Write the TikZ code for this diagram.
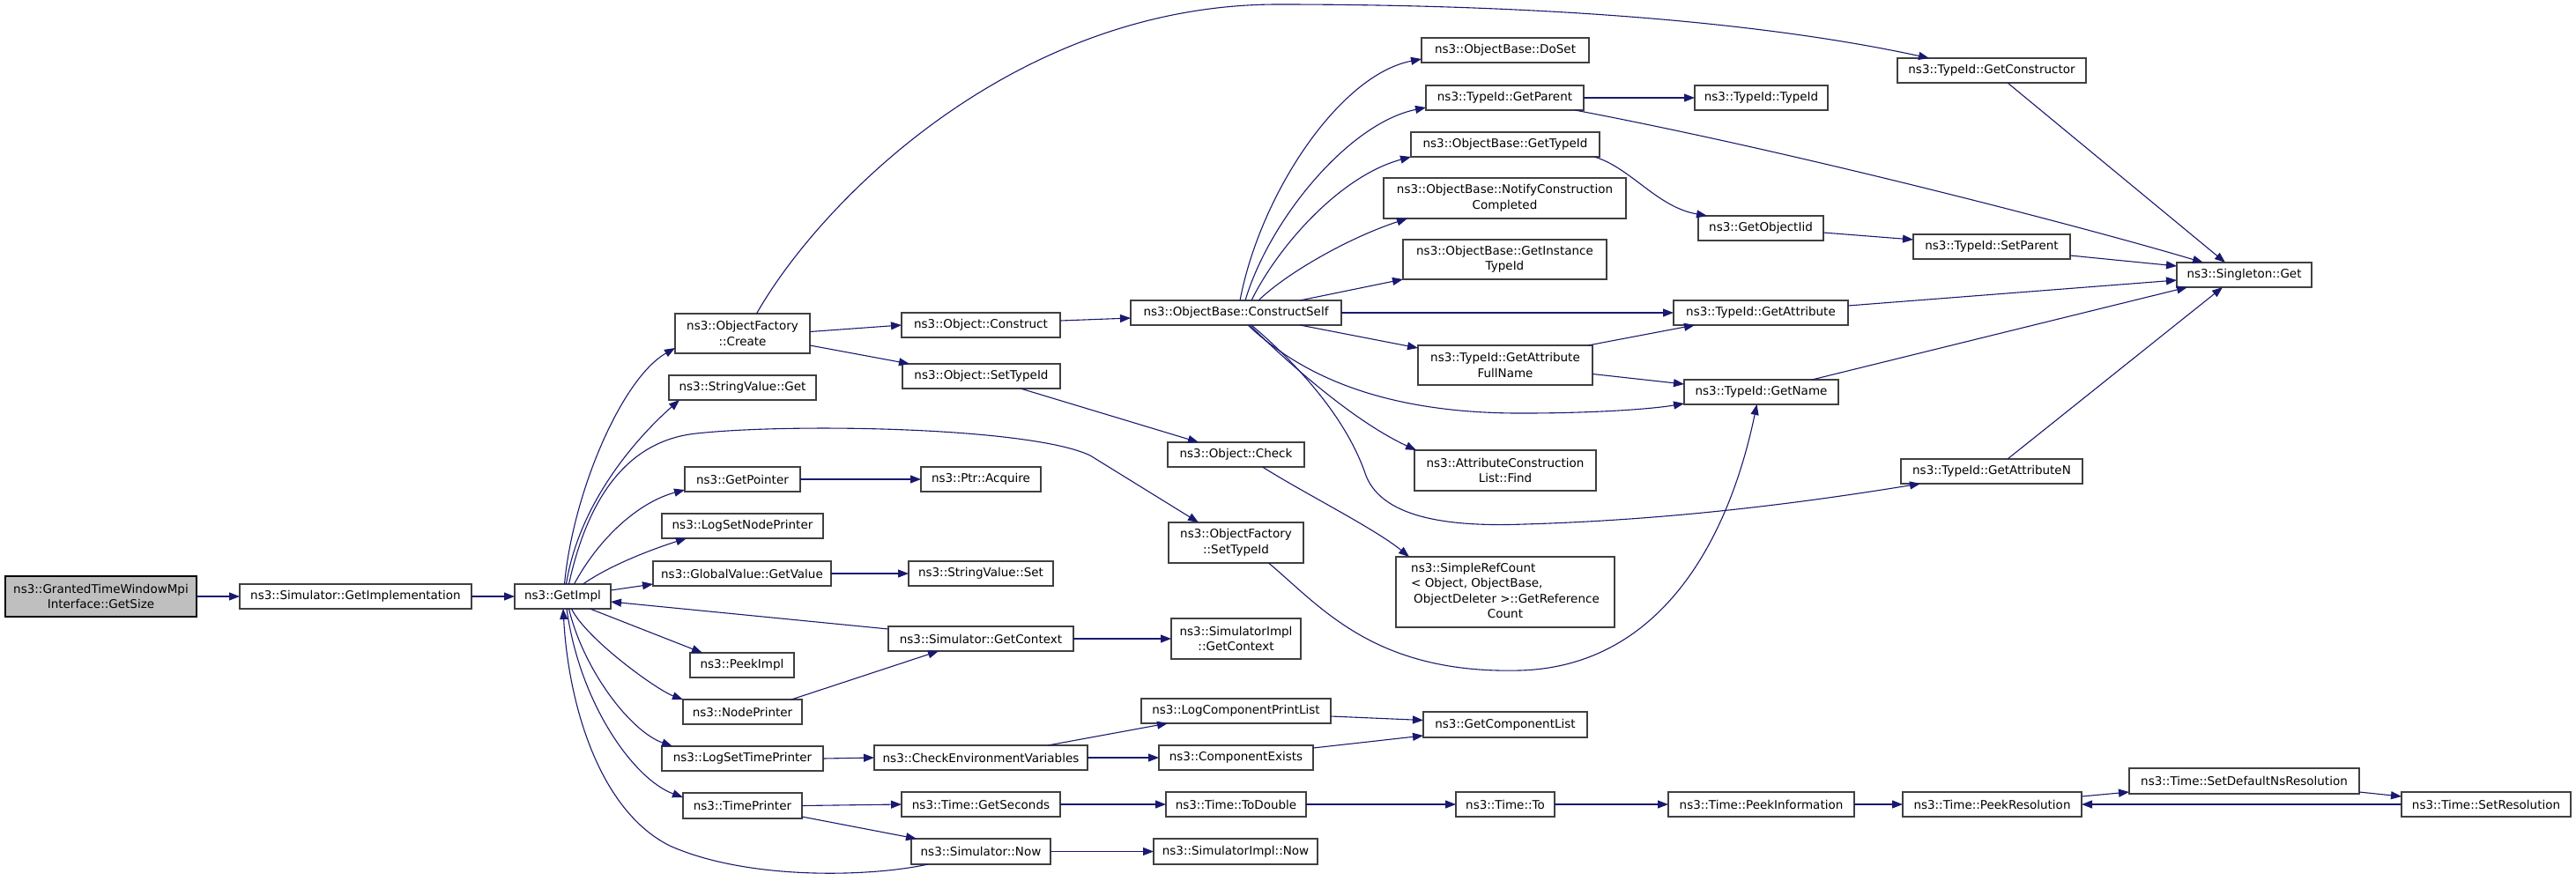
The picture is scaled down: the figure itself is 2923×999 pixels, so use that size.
\documentclass[tikz,border=0pt]{standalone}
\usepackage{fontspec}
\setmainfont{DejaVu Sans}
\usetikzlibrary{arrows.meta,calc}
\definecolor{edgeblue}{RGB}{25,25,112}
\definecolor{nodeborder}{RGB}{64,64,64}
\definecolor{rootfill}{RGB}{191,191,191}
\tikzset{
  box/.style={draw=nodeborder, line width=1.4pt, fill=white, inner sep=0pt, outer sep=0pt,
    align=center, font=\fontsize{13.5}{17.5}\selectfont},
  root/.style={fill=rootfill, draw=black},
  cl/.style={draw=edgeblue, line width=1.1pt, -{Triangle[length=12pt,width=9pt]}},
}
\newcommand{\mkbox}[7][]{\node[box,#1,minimum width={(#4-#2)*1pt},minimum height={(#5-#3)*1pt}] (#6) at ({(#2+#4)/2},{(#3+#5)/2}) {#7};}
\begin{document}
\begin{tikzpicture}[x=1pt,y=-1pt]
\useasboundingbox (0,0) rectangle (2923,999);
% nodes
\mkbox[root]{6}{654}{223}{700}{gs}{ns3::GrantedTimeWindowMpi\\Interface::GetSize}
\mkbox{272}{663}{535}{691}{gimpl}{ns3::Simulator::GetImplementation}
\mkbox{584}{663}{693}{691}{getimpl}{ns3::GetImpl}
\mkbox{766}{356}{919}{401}{ofcreate}{ns3::ObjectFactory\\::Create}
\mkbox{759}{426}{926}{454}{svget}{ns3::StringValue::Get}
\mkbox{777}{530}{908}{558}{getptr}{ns3::GetPointer}
\mkbox{751}{583}{934}{611}{lsnp}{ns3::LogSetNodePrinter}
\mkbox{741}{637}{943}{665}{gvget}{ns3::GlobalValue::GetValue}
\mkbox{783}{741}{901}{769}{peek}{ns3::PeekImpl}
\mkbox{775}{794}{910}{822}{nodep}{ns3::NodePrinter}
\mkbox{751}{847}{934}{875}{lstp}{ns3::LogSetTimePrinter}
\mkbox{775}{900}{910}{929}{timep}{ns3::TimePrinter}
\mkbox{1023}{355}{1203}{383}{oconst}{ns3::Object::Construct}
\mkbox{1024}{413}{1203}{441}{osettid}{ns3::Object::SetTypeId}
\mkbox{1045}{530}{1181}{558}{acquire}{ns3::Ptr::Acquire}
\mkbox{1031}{637}{1195}{665}{svset}{ns3::StringValue::Set}
\mkbox{1008}{711}{1218}{739}{simgc}{ns3::Simulator::GetContext}
\mkbox{992}{846}{1234}{874}{checkenv}{ns3::CheckEnvironmentVariables}
\mkbox{1023}{899}{1203}{927}{getsec}{ns3::Time::GetSeconds}
\mkbox{1034}{952}{1192}{981}{simnow}{ns3::Simulator::Now}
\mkbox{1283}{341}{1522}{369}{cself}{ns3::ObjectBase::ConstructSelf}
\mkbox{1325}{502}{1480}{530}{ocheck}{ns3::Object::Check}
\mkbox{1326}{593}{1479}{639}{ofsettid}{ns3::ObjectFactory\\::SetTypeId}
\mkbox{1329}{702}{1476}{748}{sigc}{ns3::SimulatorImpl\\::GetContext}
\mkbox{1295}{793}{1510}{821}{lcpl}{ns3::LogComponentPrintList}
\mkbox{1315}{846}{1490}{874}{cexists}{ns3::ComponentExists}
\mkbox{1323}{899}{1482}{927}{todouble}{ns3::Time::ToDouble}
\mkbox{1309}{952}{1495}{981}{sinow}{ns3::SimulatorImpl::Now}
\mkbox{1613}{43}{1803}{71}{doset}{ns3::ObjectBase::DoSet}
\mkbox{1618}{97}{1797}{125}{getparent}{ns3::TypeId::GetParent}
\mkbox{1601}{150}{1815}{178}{obgtid}{ns3::ObjectBase::GetTypeId}
\mkbox{1570}{202}{1845}{248}{notify}{ns3::ObjectBase::NotifyConstruction\\Completed}
\mkbox{1592}{272}{1823}{317}{ginst}{ns3::ObjectBase::GetInstance\\TypeId}
\mkbox{1609}{392}{1807}{437}{gafn}{ns3::TypeId::GetAttribute\\FullName}
\mkbox{1605}{511}{1811}{557}{acfind}{ns3::AttributeConstruction\\List::Find}
\mkbox{1584}{632}{1832}{712}{srefc}{\begin{tabular}{@{}l@{}}ns3::SimpleRefCount\\\textless{} Object, ObjectBase,\\\hspace{3pt}ObjectDeleter \textgreater::GetReference\\\multicolumn{1}{@{}c@{}}{Count}\end{tabular}}
\mkbox{1615}{808}{1801}{837}{gcl}{ns3::GetComponentList}
\mkbox{1652}{899}{1764}{927}{tto}{ns3::Time::To}
\mkbox{1923}{97}{2074}{125}{tidtid}{ns3::TypeId::TypeId}
\mkbox{1927}{245}{2069}{273}{goiid}{ns3::GetObjectIid}
\mkbox{1899}{341}{2097}{369}{gattr}{ns3::TypeId::GetAttribute}
\mkbox{1911}{431}{2086}{459}{gname}{ns3::TypeId::GetName}
\mkbox{1893}{899}{2104}{927}{peekinfo}{ns3::Time::PeekInformation}
\mkbox{2153}{66}{2367}{94}{gctor}{ns3::TypeId::GetConstructor}
\mkbox{2171}{266}{2349}{294}{setparent}{ns3::TypeId::SetParent}
\mkbox{2157}{521}{2363}{549}{gattrn}{ns3::TypeId::GetAttributeN}
\mkbox{2159}{899}{2362}{927}{peekres}{ns3::Time::PeekResolution}
\mkbox{2416}{872}{2677}{901}{setdef}{ns3::Time::SetDefaultNsResolution}
\mkbox{2725}{899}{2917}{927}{setres}{ns3::Time::SetResolution}
\mkbox{2470}{298}{2623}{326}{singleton}{ns3::Singleton::Get}
% edges
\draw[cl] (gs.east) -- (gimpl.west);
\draw[cl] (gimpl.east) -- (getimpl.west);
\draw[cl] ($(getimpl.north)+(2,0)$) .. controls (650,560) and (705,430) .. ($(ofcreate.south west)+(0,-6)$);
\draw[cl] ($(getimpl.north)+(4,0)$) .. controls (658,565) and (730,490) .. ($(svget.south west)+(12,0)$);
\draw[cl] ($(getimpl.north)+(7,0)$) .. controls (668,560) and (715,500) .. (790,492) .. controls (900,480) and (1170,485) .. (1237,517) -- ($(ofsettid.north west)+(34,0)$);
\draw[cl] ($(getimpl.north)+(13,0)$) .. controls (680,610) and (725,570) .. ($(getptr.south west)+(0,-2)$);
\draw[cl] ($(getimpl.north)+(23,0)$) .. controls (690,643) and (735,625) .. ($(lsnp.south west)+(28,0)$);
\draw[cl] ($(getimpl.east)+(0,-7)$) -- ($(gvget.south west)+(0,-2)$);
\draw[cl] ($(simgc.north west)+(0,3)$) -- ($(getimpl.east)+(0,6)$);
\draw[cl] ($(getimpl.south)+(31,0)$) -- ($(peek.north west)+(14,0)$);
\draw[cl] ($(getimpl.south)+(10,0)$) .. controls (665,725) and (745,783) .. (nodep.north west);
\draw[cl] ($(getimpl.south)+(7,0)$) .. controls (662,760) and (715,830) .. ($(lstp.north west)+(12,0)$);
\draw[cl] ($(getimpl.south)+(4.5,0)$) .. controls (658,800) and (720,885) .. ($(timep.north west)+(0,5)$);
\draw[cl] ($(simnow.south west)+(19,0)$) .. controls (990,995) and (850,1000) .. (760,960) .. controls (680,920) and (645,800) .. ($(getimpl.south)+(0.5,0)$);
\draw[cl] ($(ofcreate.east)+(0,-2)$) -- (oconst.west);
\draw[cl] ($(ofcreate.south east)+(0,-9)$) -- ($(osettid.north west)+(8,0)$);
\draw[cl] ($(ofcreate.north)+(16,0)$) .. controls (930,230) and (1150,5) .. (1450,5) .. controls (1750,5) and (2000,25) .. ($(gctor.north west)+(36,0)$);
\draw[cl] ($(oconst.east)+(0,-5)$) -- ($(cself.west)+(0,6)$);
\draw[cl] ($(osettid.south east)+(-45,0)$) -- ($(ocheck.north west)+(35,0)$);
\draw[cl] ($(ocheck.south)+(30,0)$) .. controls (1480,560) and (1560,600) .. ($(srefc.north west)+(15,0)$);
\draw[cl] ($(ofsettid.south)+(37,0)$) .. controls (1500,690) and (1560,765) .. (1724,761) .. controls (1880,757) and (1960,620) .. ($(gname.south)+(-5,0)$);
\draw[cl] (getptr.east) -- (acquire.west);
\draw[cl] (gvget.east) -- (svset.west);
\draw[cl] (simgc.east) -- (sigc.west);
\draw[cl] ($(nodep.north east)+(-12,0)$) -- ($(simgc.south west)+(57,0)$);
\draw[cl] (lstp.east) -- (checkenv.west);
\draw[cl] ($(checkenv.north east)+(-45,0)$) -- ($(lcpl.south west)+(30,0)$);
\draw[cl] (checkenv.east) -- (cexists.west);
\draw[cl] ($(lcpl.east)+(0,6)$) -- ($(gcl.west)+(0,-5)$);
\draw[cl] ($(cexists.north east)+(0,3)$) -- ($(gcl.south west)+(0,-2)$);
\draw[cl] (timep.east) -- (getsec.west);
\draw[cl] ($(timep.south east)+(0,-2)$) -- ($(simnow.north west)+(6,0)$);
\draw[cl] (getsec.east) -- (todouble.west);
\draw[cl] (simnow.east) -- (sinow.west);
\draw[cl] (todouble.east) -- (tto.west);
\draw[cl] (tto.east) -- (peekinfo.west);
\draw[cl] (peekinfo.east) -- (peekres.west);
\draw[cl] ($(peekres.north east)+(0,5)$) -- ($(setdef.south west)+(0,-2)$);
\draw[cl] ($(setdef.south east)+(0,-2)$) -- ($(setres.north west)+(0,5)$);
\draw[cl] (setres.west) -- (peekres.east);
% ConstructSelf fan
\draw[cl] ($(cself.north)+(4.5,0)$) .. controls (1430,220) and (1520,85) .. ($(doset.west)+(0,10)$);
\draw[cl] ($(cself.north)+(10.5,0)$) .. controls (1440,250) and (1530,140) .. ($(getparent.west)+(0,11)$);
\draw[cl] ($(cself.north)+(17.5,0)$) .. controls (1450,280) and (1520,200) .. (obgtid.south west);
\draw[cl] ($(cself.north)+(25.5,0)$) .. controls (1460,310) and (1530,270) .. ($(notify.south west)+(27,0)$);
\draw[cl] ($(cself.north east)+(-47,0)$) -- (ginst.south west);
\draw[cl] (cself.east) -- (gattr.west);
\draw[cl] ($(cself.south east)+(-47,0)$) -- ($(gafn.north west)+(0,3)$);
\draw[cl] ($(cself.south)+(13.5,0)$) .. controls (1470,420) and (1560,470) .. (1730,469) .. controls (1800,469) and (1870,465) .. ($(gname.south west)+(0,-1)$);
\draw[cl] ($(cself.south)+(15.5,0)$) .. controls (1470,420) and (1540,480) .. ($(acfind.north west)+(2,0)$);
\draw[cl] ($(cself.south)+(17.5,0)$) .. controls (1480,420) and (1530,480) .. (1550,540) .. controls (1570,590) and (1650,598) .. (1730,595) .. controls (1900,590) and (2050,570) .. ($(gattrn.south west)+(22,0)$);
\draw[cl] (getparent.east) -- (tidtid.west);
\draw[cl] ($(getparent.south east)+(-10,0)$) .. controls (2050,175) and (2380,262) .. ($(singleton.north west)+(30,0)$);
\draw[cl] ($(obgtid.south east)+(-6,0)$) .. controls (1850,190) and (1880,235) .. ($(goiid.north west)+(10,0)$);
\draw[cl] ($(goiid.east)+(0,5)$) -- ($(setparent.west)+(0,-8)$);
\draw[cl] ($(setparent.east)+(0,10)$) -- ($(singleton.west)+(0,-10)$);
\draw[cl] ($(gattr.east)+(0,-8)$) -- ($(singleton.west)+(0,6)$);
\draw[cl] ($(gname.north east)+(-30,0)$) -- ($(singleton.south west)+(12,0)$);
\draw[cl] ($(gattrn.north west)+(121,0)$) -- ($(singleton.south west)+(52,0)$);
\draw[cl] ($(gctor.south west)+(125,0)$) -- ($(singleton.north west)+(55,0)$);
\draw[cl] ($(gafn.north east)+(-5,0)$) -- ($(gattr.south west)+(24,0)$);
\draw[cl] ($(gafn.east)+(0,10)$) -- ($(gname.west)+(0,-9)$);
\end{tikzpicture}
\end{document}
